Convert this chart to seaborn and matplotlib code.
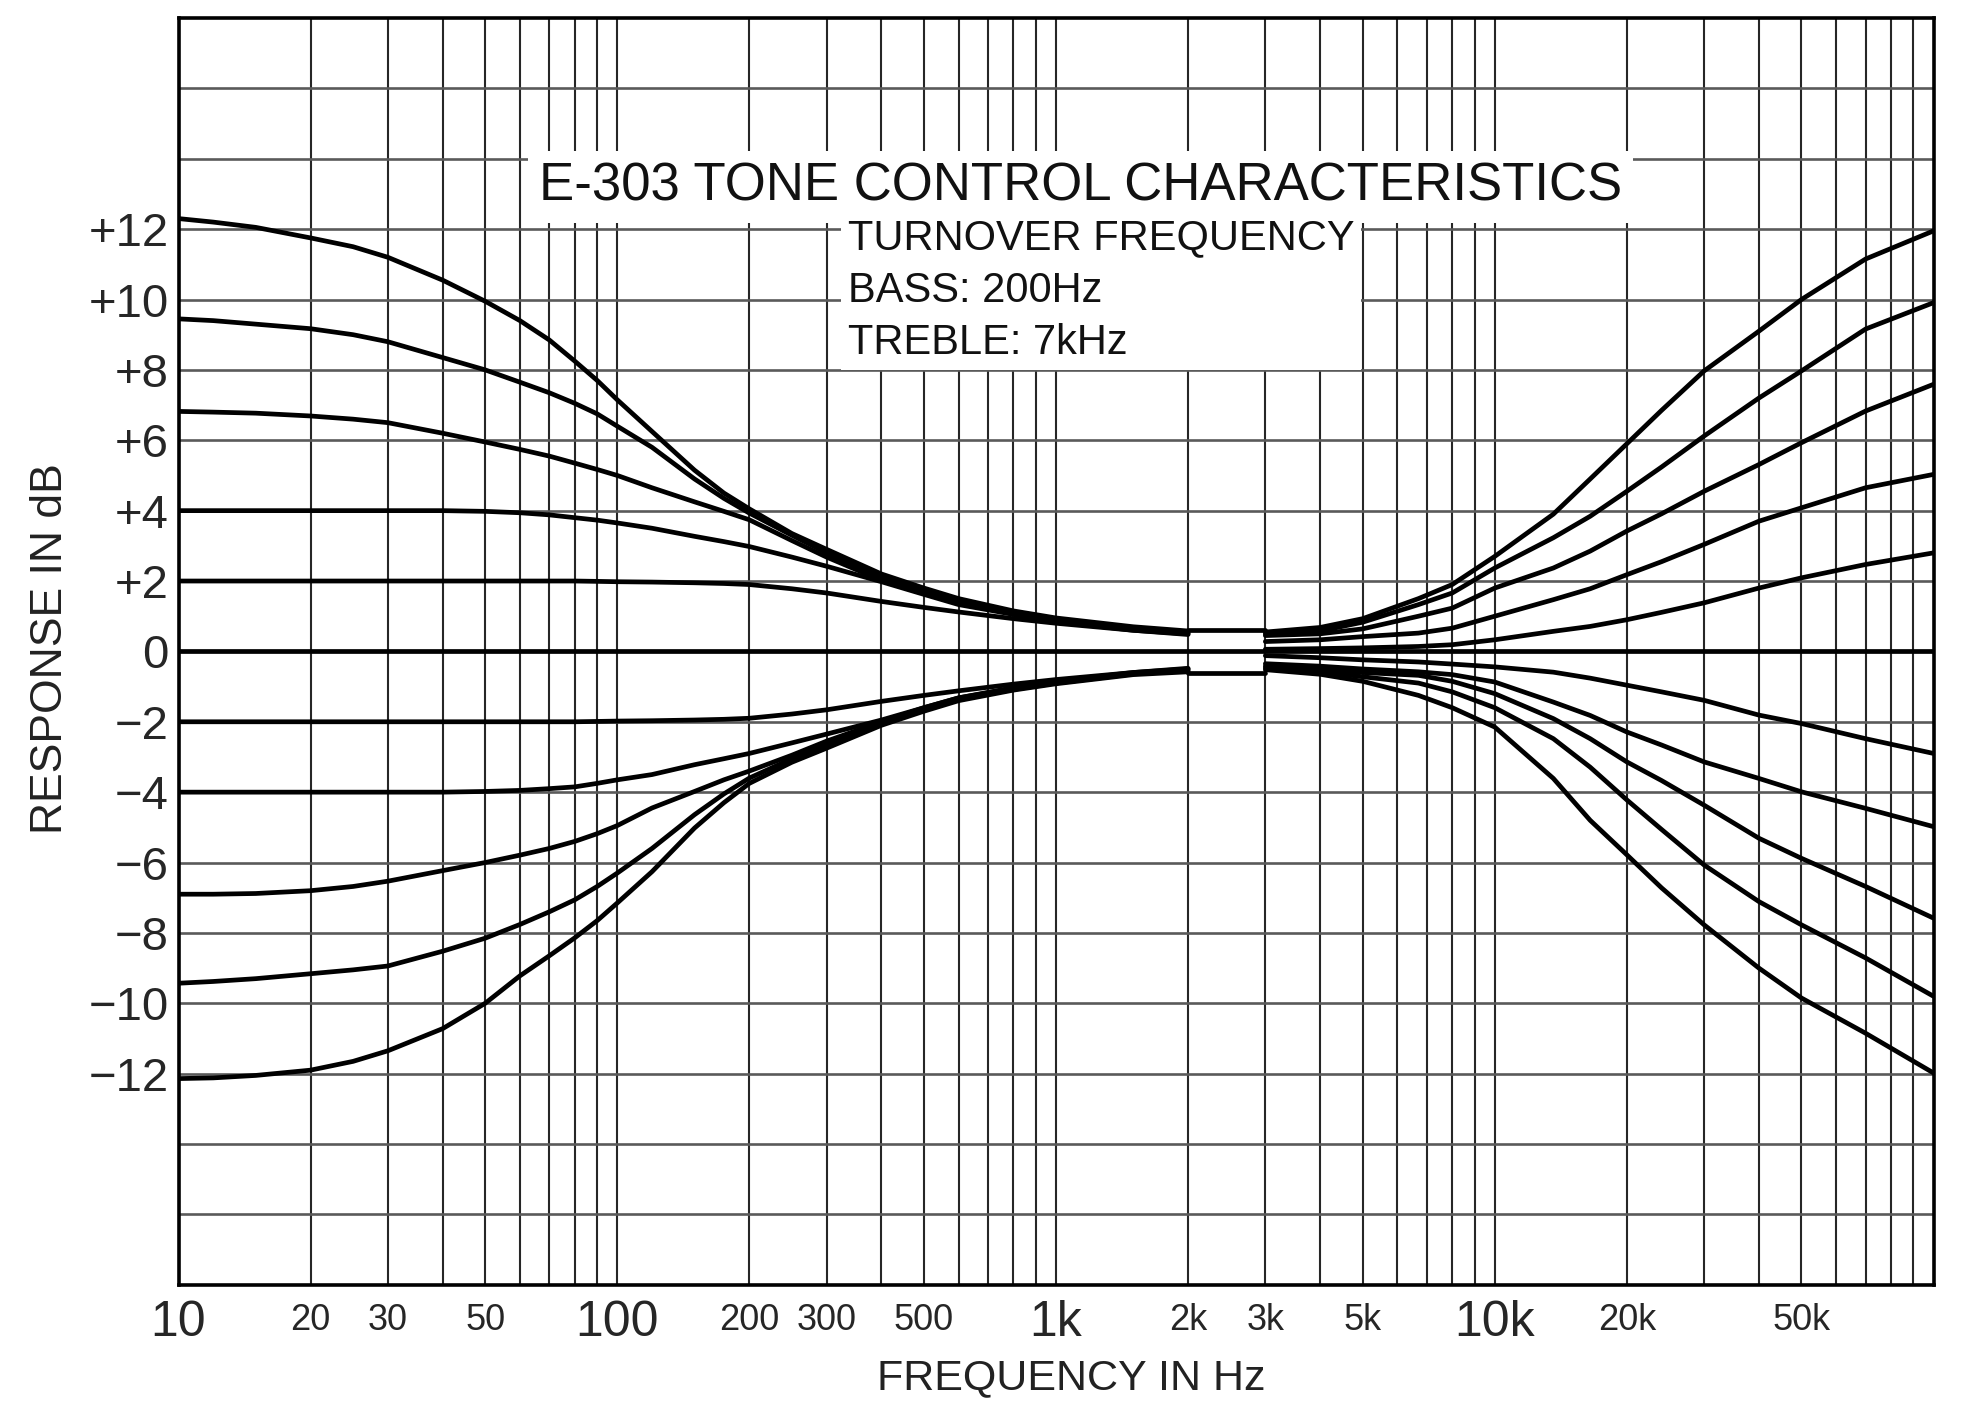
import matplotlib
matplotlib.use("Agg")
import matplotlib.pyplot as plt
import pandas as pd
import seaborn as sns

# bass side, values (dB) at these frequencies (Hz)
bass_freq = [10, 12, 15, 20, 25, 30, 40, 50, 60, 70, 80, 90, 100, 120, 150, 175,
             200, 250, 300, 400, 500, 600, 800, 1000, 1500, 2000]
bass_boost_12 = [12.3, 12.2, 12.05, 11.75, 11.5, 11.2, 10.55, 9.95, 9.4, 8.85, 8.25, 7.7, 7.15,
                 6.25, 5.15, 4.5, 4.05, 3.35, 2.9, 2.2, 1.8, 1.5, 1.15, 0.95, 0.7, 0.58]
bass_boost_9 = [9.45, 9.4, 9.3, 9.17, 9.0, 8.8, 8.35, 8.0, 7.65, 7.35, 7.05, 6.75, 6.4,
                5.8, 4.9, 4.35, 3.93, 3.3, 2.8, 2.1, 1.72, 1.45, 1.12, 0.92, 0.66, 0.55]
bass_boost_7 = [6.82, 6.8, 6.77, 6.69, 6.6, 6.5, 6.2, 5.95, 5.74, 5.55, 5.35, 5.17, 5.0,
                4.65, 4.25, 3.98, 3.74, 3.15, 2.68, 2.02, 1.65, 1.38, 1.08, 0.88, 0.63, 0.52]
bass_boost_4 = [4.0, 4.0, 4.0, 4.0, 4.0, 4.0, 4.0, 3.98, 3.94, 3.88, 3.8, 3.73, 3.65,
                3.5, 3.27, 3.12, 2.98, 2.68, 2.42, 1.98, 1.62, 1.33, 1.05, 0.85, 0.6, 0.5]
bass_boost_2 = [2.0, 2.0, 2.0, 2.0, 2.0, 2.0, 2.0, 2.0, 2.0, 2.0, 2.0, 1.99, 1.98,
                1.97, 1.95, 1.93, 1.9, 1.78, 1.66, 1.42, 1.25, 1.12, 0.93, 0.8, 0.6, 0.48]
bass_cut_2 = [-2.0, -2.0, -2.0, -2.0, -2.0, -2.0, -2.0, -2.0, -2.0, -2.0, -2.0, -1.99, -1.98,
              -1.97, -1.95, -1.93, -1.9, -1.78, -1.66, -1.42, -1.25, -1.12, -0.93, -0.8, -0.6, -0.48]
bass_cut_4 = [-4.0, -4.0, -4.0, -4.0, -4.0, -4.0, -4.0, -3.98, -3.95, -3.9, -3.85, -3.75, -3.65,
              -3.5, -3.22, -3.05, -2.9, -2.6, -2.35, -1.95, -1.6, -1.32, -1.03, -0.85, -0.6, -0.5]
bass_cut_7 = [-6.9, -6.9, -6.88, -6.8, -6.68, -6.53, -6.23, -6.0, -5.79, -5.6, -5.4, -5.18, -4.95,
              -4.45, -3.98, -3.65, -3.4, -2.95, -2.55, -2.0, -1.6, -1.32, -1.05, -0.87, -0.62, -0.52]
bass_cut_9 = [-9.43, -9.38, -9.3, -9.16, -9.05, -8.94, -8.52, -8.15, -7.76, -7.4, -7.06, -6.68, -6.3,
              -5.6, -4.64, -4.05, -3.6, -3.05, -2.65, -2.05, -1.65, -1.36, -1.08, -0.9, -0.64, -0.55]
bass_cut_12 = [-12.14, -12.12, -12.05, -11.9, -11.65, -11.35, -10.72, -10.0, -9.22, -8.65, -8.14, -7.65, -7.15,
               -6.26, -5.02, -4.3, -3.75, -3.15, -2.75, -2.1, -1.7, -1.4, -1.1, -0.92, -0.66, -0.58]

# treble side
treble_freq = [3000, 4000, 5000, 6700, 8000, 10000, 13600, 16500, 20000, 24000,
               30000, 40000, 50000, 70000, 100000]
treble_boost_12 = [0.55, 0.68, 0.93, 1.5, 1.9, 2.7, 3.9, 4.9, 5.9, 6.85, 7.97, 9.1, 10.0, 11.15, 11.95]
treble_boost_10 = [0.5, 0.58, 0.83, 1.33, 1.66, 2.37, 3.23, 3.84, 4.55, 5.24, 6.12, 7.2, 7.97, 9.16, 9.91]
treble_boost_8 = [0.45, 0.5, 0.64, 1.0, 1.23, 1.8, 2.37, 2.85, 3.42, 3.91, 4.55, 5.31, 5.93, 6.83, 7.59]
treble_boost_5 = [0.28, 0.33, 0.42, 0.52, 0.66, 1.0, 1.47, 1.78, 2.18, 2.55, 3.04, 3.7, 4.08, 4.65, 5.03]
treble_boost_3 = [0.06, 0.08, 0.1, 0.14, 0.19, 0.33, 0.57, 0.71, 0.9, 1.11, 1.38, 1.8, 2.09, 2.47, 2.8]
treble_cut_3 = [-0.12, -0.18, -0.24, -0.3, -0.36, -0.44, -0.59, -0.76, -0.96, -1.15, -1.39, -1.81, -2.05, -2.48, -2.9]
treble_cut_5 = [-0.35, -0.42, -0.5, -0.58, -0.66, -0.87, -1.44, -1.82, -2.29, -2.66, -3.14, -3.61, -3.99, -4.46, -4.98]
treble_cut_8 = [-0.42, -0.5, -0.6, -0.68, -0.85, -1.2, -1.91, -2.48, -3.14, -3.67, -4.37, -5.31, -5.88, -6.68, -7.58]
treble_cut_10 = [-0.47, -0.58, -0.72, -0.9, -1.15, -1.6, -2.48, -3.29, -4.22, -5.06, -6.07, -7.11, -7.77, -8.71, -9.8]
treble_cut_12 = [-0.52, -0.65, -0.85, -1.25, -1.6, -2.15, -3.61, -4.8, -5.78, -6.72, -7.77, -9.0, -9.85, -10.85, -11.98]

# flat setting and the small box between 2k and 3k
flat_freq = [10, 100000]
flat_db = [0, 0]
gap_freq = [2000, 3000]
gap_top = [0.6, 0.6]
gap_bottom = [-0.6, -0.6]

major_ticks = [10, 100, 1000, 10000]
major_labels = ["10", "100", "1k", "10k"]
minor_ticks = [20, 30, 50, 200, 300, 500, 2000, 3000, 5000, 20000, 50000]
minor_labels = ["20", "30", "50", "200", "300", "500", "2k", "3k", "5k", "20k", "50k"]
y_ticks = [12, 10, 8, 6, 4, 2, 0, -2, -4, -6, -8, -10, -12]
y_labels = ["+12", "+10", "+8", "+6", "+4", "+2", "0",
            "\u22122", "\u22124", "\u22126", "\u22128", "\u221210", "\u221212"]

curves = {
    "b12": (bass_freq, bass_boost_12), "b9": (bass_freq, bass_boost_9),
    "b7": (bass_freq, bass_boost_7), "b4": (bass_freq, bass_boost_4),
    "b2": (bass_freq, bass_boost_2), "bc2": (bass_freq, bass_cut_2),
    "bc4": (bass_freq, bass_cut_4), "bc7": (bass_freq, bass_cut_7),
    "bc9": (bass_freq, bass_cut_9), "bc12": (bass_freq, bass_cut_12),
    "t12": (treble_freq, treble_boost_12), "t10": (treble_freq, treble_boost_10),
    "t8": (treble_freq, treble_boost_8), "t5": (treble_freq, treble_boost_5),
    "t3": (treble_freq, treble_boost_3), "tc3": (treble_freq, treble_cut_3),
    "tc5": (treble_freq, treble_cut_5), "tc8": (treble_freq, treble_cut_8),
    "tc10": (treble_freq, treble_cut_10), "tc12": (treble_freq, treble_cut_12),
    "flat": (flat_freq, flat_db),
    "gap_top": (gap_freq, gap_top), "gap_bottom": (gap_freq, gap_bottom),
}
df = pd.concat(
    [pd.DataFrame({"curve": k, "freq": f, "db": d}) for k, (f, d) in curves.items()],
    ignore_index=True,
)

sns.set_style("white")
plt.rcParams["font.family"] = ["Liberation Sans", "DejaVu Sans"]

fig = plt.figure(figsize=(19.77, 14.06), dpi=100)
ax = fig.add_axes([0.0903, 0.0862, 0.978 - 0.0903, 0.9872 - 0.0862])
ax.set_xscale("log")

# chart-paper grid
for decade in [10, 100, 1000, 10000]:
    for m in range(1, 10):
        ax.axvline(decade * m, color="#262626", lw=1.5, zorder=1)
for y in range(-16, 17, 2):
    ax.axhline(y, color="#5a5a5a", lw=1.9, zorder=1)

sns.lineplot(data=df, x="freq", y="db", units="curve", estimator=None,
             color="black", lw=3.4, sort=False, ax=ax, zorder=4)

ax.set_xlim(10, 100000)
ax.set_ylim(-18, 18)
ax.set_xticks(major_ticks, labels=major_labels)
ax.set_xticks(minor_ticks, labels=minor_labels, minor=True)
ax.set_yticks(y_ticks, labels=y_labels)
ax.tick_params(axis="x", which="major", length=0, pad=11, labelsize=36)
ax.tick_params(axis="x", which="minor", length=0, pad=13, labelsize=26)
ax.tick_params(axis="y", length=0, pad=7, labelsize=34)
ax.set_xlabel("")
ax.set_ylabel("")
for s in ax.spines.values():
    s.set_visible(True)
    s.set_color("black")
    s.set_linewidth(2.6)

ax.text(1139, 13.2, "E-303 TONE CONTROL CHARACTERISTICS", fontsize=38,
        ha="center", va="center", color="#111", zorder=3,
        bbox=dict(facecolor="white", edgecolor="none", pad=8))
ax.text(335, 12.3, "TURNOVER FREQUENCY\nBASS: 200Hz\nTREBLE: 7kHz",
        fontsize=30, ha="left", va="top", color="#111", linespacing=1.4,
        zorder=3, bbox=dict(facecolor="white", edgecolor="none", pad=5))

fig.text(0.0253, 0.5384, "RESPONSE IN dB", rotation=90, fontsize=32,
         ha="center", va="center", color="#222")
fig.text(0.542, 0.0199, "FREQUENCY IN Hz", fontsize=31,
         ha="center", va="center", color="#222")

fig.savefig("out.png", dpi=100, facecolor="white")
